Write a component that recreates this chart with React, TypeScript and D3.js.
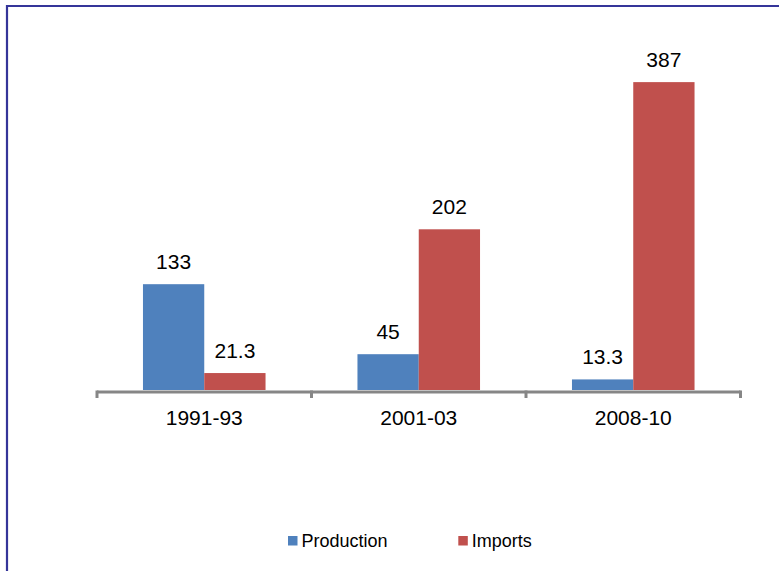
import React from "react";
import * as d3 from "d3";

const categories = ["1991-93", "2001-03", "2008-10"];
const seriesNames = ["Production", "Imports"];
const production = [133, 45, 13.3];
const imports = [21.3, 202, 387];
const labels = [["133", "45", "13.3"], ["21.3", "202", "387"]];
const colors = ["#4F81BD", "#C0504D"];

export default function App() {
  const W = 779, H = 571;
  const baseY = 390;
  const x0 = d3.scaleBand<string>().domain(categories).range([97, 740.5]).paddingInner(0).paddingOuter(0);
  const x1 = d3.scaleBand<string>().domain(seriesNames).range([0, x0.bandwidth()]).paddingInner(0).paddingOuter(0.75);
  const y = d3.scaleLinear().domain([0, 450]).range([baseY, 32]);
  const values = [production, imports];
  const font = "'Liberation Sans', Arial, sans-serif";
  const tickXs = [...categories.map((c) => x0(c) as number), (x0(categories[categories.length - 1]) as number) + x0.bandwidth()];

  return (
    <svg width={W} height={H} style={{ position: "absolute", left: 0, top: 0, background: "#fff" }} fontFamily={font}>
      <rect x={0} y={0} width={W} height={H} fill="#fff" />
      <line x1={7} y1={6} x2={W} y2={6} stroke="#353599" strokeWidth={2.2} />
      <line x1={7} y1={5} x2={7} y2={H} stroke="#353599" strokeWidth={2.2} />
      {seriesNames.map((s, si) =>
        categories.map((c, ci) => {
          const bx = (x0(c) as number) + (x1(s) as number);
          const v = values[si][ci];
          return (
            <g key={s + c}>
              <rect x={bx} y={y(v)} width={x1.bandwidth()} height={baseY - y(v)} fill={colors[si]} />
              <text x={bx + x1.bandwidth() / 2} y={y(v) - 15} textAnchor="middle" fontSize={21} fill="#000">
                {labels[si][ci]}
              </text>
            </g>
          );
        })
      )}
      <line x1={tickXs[0]} y1={392} x2={tickXs[tickXs.length - 1]} y2={392} stroke="#868686" strokeWidth={3} />
      {tickXs.map((tx, i) => (
        <line key={i} x1={tx} y1={390.5} x2={tx} y2={398} stroke="#868686" strokeWidth={3} />
      ))}
      {categories.map((c) => (
        <text key={c} x={(x0(c) as number) + x0.bandwidth() / 2} y={425} textAnchor="middle" fontSize={21} fill="#000">
          {c}
        </text>
      ))}
      {seriesNames.map((s, i) => {
        const lx = [288, 458.3][i];
        return (
          <g key={s}>
            <rect x={lx} y={536} width={9.5} height={9.5} fill={colors[i]} />
            <text x={lx + 13.5} y={547} fontSize={18} fill="#000">{s}</text>
          </g>
        );
      })}
    </svg>
  );
}
